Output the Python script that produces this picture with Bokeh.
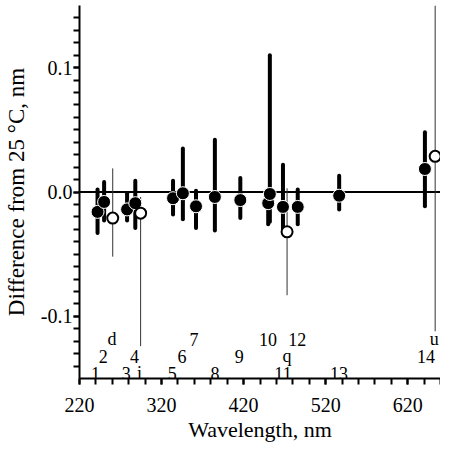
from bokeh.plotting import figure
from bokeh.models import Span, FixedTicker, Range1d, PrintfTickFormatter, ColumnDataSource
from bokeh.core.properties import value
from bokeh.embed import file_html
from bokeh.resources import INLINE

# ---- data ----
# filled points (stations 1..14; 10 has two overlapping points)
filled_wl = [242, 250, 278, 288, 334, 346, 362, 385, 416, 450, 452, 468, 486, 536.5, 641]
filled_dy = [-0.016, -0.008, -0.014, -0.009, -0.005, -0.001, -0.0115, -0.004, -0.0065,
             -0.009, -0.0016, -0.012, -0.012, -0.003, 0.0185]
filled_lo = [-0.033, -0.023, -0.023, -0.029, -0.018, -0.022, -0.029, -0.031, -0.021,
             -0.026, -0.024, -0.033, -0.026, -0.014, -0.0115]
filled_hi = [0.002, 0.008, -0.001, 0.009, 0.009, 0.035, 0.001, 0.042, 0.0113,
             0.0, 0.110, 0.022, 0.002, 0.013, 0.048]

# open points (d, i, q, u)
open_wl = [260.5, 294.5, 473, 653.5]
open_dy = [-0.021, -0.017, -0.032, 0.0287]
open_lo = [-0.052, -0.124, -0.083, -0.112]
open_hi = [0.019, -0.004, 0.003, 0.150]

# point labels: text, wavelength, row (0 = top row, 2 = bottom row)
label_text = ["d", "7", "10", "12", "u",
              "2", "4", "6", "9", "q", "14",
              "1", "3", "i", "5", "8", "11", "13"]
label_wl = [259.7, 359.5, 449.6, 485.3, 652.4,
            248.9, 287, 345, 414.8, 472.8, 642.3,
            239.6, 276.9, 293, 333, 385, 468, 536.2]
label_row = [0, 0, 0, 0, 0,
             1, 1, 1, 1, 1, 1,
             2, 2, 2, 2, 2, 2, 2]

x_major = [220, 320, 420, 520, 620]
y_major = [-0.1, 0.0, 0.1]

# ---- figure ----
FONT = "Liberation Serif"
p = figure(width=440, height=446, output_backend="svg", toolbar_location=None,
           x_range=Range1d(220, 660), y_range=Range1d(-0.15, 0.15),
           min_border_left=74, min_border_right=0, min_border_top=5, min_border_bottom=68)
p.outline_line_color = None
p.grid.visible = False
p.background_fill_color = "white"
p.border_fill_color = "white"

p.xaxis.ticker = FixedTicker(ticks=x_major, minor_ticks=list(range(220, 661, 20)))
p.yaxis.ticker = FixedTicker(ticks=y_major,
                             minor_ticks=[round(-0.14 + 0.01 * i, 2) for i in range(29)])
p.yaxis.formatter = PrintfTickFormatter(format="%.1f")

for ax in (p.xaxis, p.yaxis):
    ax.axis_line_width = 2
    ax.axis_line_color = "black"
    ax.major_tick_line_width = 2
    ax.minor_tick_line_width = 2
    ax.major_tick_in = 0
    ax.minor_tick_in = 0
    ax.major_tick_out = 6
    ax.minor_tick_out = 6
    ax.major_label_text_font = FONT
    ax.major_label_text_font_size = "20px"
    ax.major_label_text_color = "black"
    ax.axis_label_text_font = FONT
    ax.axis_label_text_font_style = "normal"
    ax.axis_label_text_color = "black"

p.xaxis.axis_label = "Wavelength, nm"
p.yaxis.axis_label = "Difference from 25 °C, nm"
p.xaxis.axis_label_text_font_size = "22px"
p.yaxis.axis_label_text_font_size = "23px"
p.xaxis.major_label_standoff = 13
p.yaxis.major_label_standoff = 1
p.xaxis.axis_label_standoff = 2
p.yaxis.axis_label_standoff = 9

p.add_layout(Span(location=0, dimension="width", line_color="black", line_width=2,
                  level="underlay"))

# thin lines for open points
p.segment(x0=open_wl, y0=open_lo, x1=open_wl, y1=open_hi, line_width=1, line_color="#333333")
# thick bars for filled points
p.segment(x0=filled_wl, y0=filled_lo, x1=filled_wl, y1=filled_hi, line_width=4,
          line_color="black", line_cap="round")
p.scatter(filled_wl, filled_dy, size=13, fill_color="black", line_color="white", line_width=1)
p.scatter(open_wl, open_dy, size=11, fill_color="white", line_color="black", line_width=2)

row_y = [-0.1183, -0.1322, -0.1456]
src = ColumnDataSource(dict(x=label_wl, y=[row_y[r] for r in label_row], t=label_text))
p.text(x="x", y="y", text="t", source=src, text_font=value(FONT), text_font_size="18px",
       text_align="center", text_baseline="alphabetic", text_color="black")

open("out.html", "w").write(file_html(p, INLINE))
